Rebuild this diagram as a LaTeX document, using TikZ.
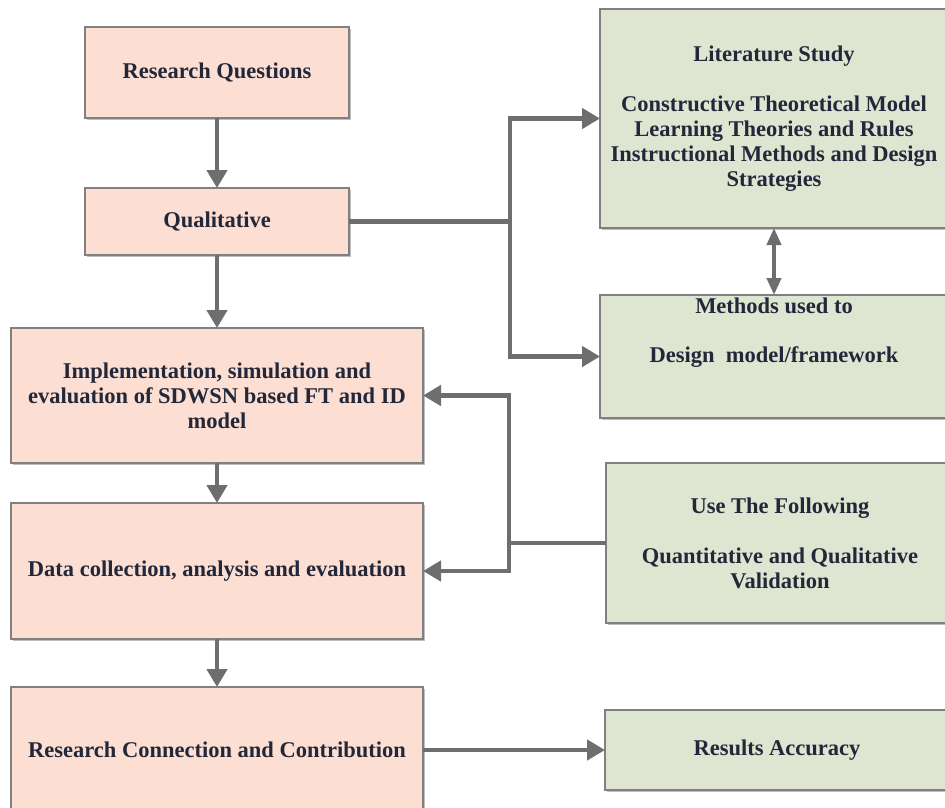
\documentclass[tikz,border=0pt]{standalone}
\usepackage{fontspec}
\setmainfont{Liberation Serif}
\usetikzlibrary{arrows.meta,shadows}
\definecolor{stagefill}{HTML}{FCDED2}
\definecolor{sourcefill}{HTML}{DEE6D2}
\definecolor{boxline}{HTML}{808080}
\definecolor{flow}{HTML}{6E6E6E}
\definecolor{ink}{HTML}{22283A}
\begin{document}
\begin{tikzpicture}[x=1pt,y=-1pt,
  boxtext/.style={inner sep=0pt, outer sep=0pt, align=center, text=ink,
    font=\rmfamily\bfseries\fontsize{22.5}{25}\selectfont},
  box/.style={boxtext, draw=boxline, line width=1.5pt,
    drop shadow={shadow xshift=2pt, shadow yshift=-2pt, opacity=0.25, fill=black}},
  stage/.style={box, fill=stagefill},
  source/.style={box, fill=sourcefill},
  flowline/.style={draw=flow, line width=4.5pt},
  flowarrow/.style={flowline, -{Triangle[length=18pt,width=20pt]}},
  twoway/.style={draw=flow, line width=4pt,
    {Triangle[length=17pt,width=14pt]}-{Triangle[length=17pt,width=14pt]}},
]
\useasboundingbox (0,0) rectangle (945,807);
\clip (0,0) rectangle (945,807);

% main research stages (left column)
\node[stage, minimum width=264pt, minimum height=91pt] (rq) at (217,72.5) {Research Questions};
\node[stage, minimum width=264pt, minimum height=67pt] (qual) at (217,221.5) {Qualitative};
\node[stage, minimum width=412pt, minimum height=135pt] (impl) at (217,395.5)
  {Implementation, simulation and\\evaluation of SDWSN based FT and ID\\model};
\node[stage, minimum width=412pt, minimum height=136pt] (data) at (217,571)
  {Data collection, analysis and evaluation};
\node[stage, minimum width=412pt, minimum height=126pt] (conn) at (217,750)
  {Research Connection and Contribution};

% supporting sources (right column)
\node[source, minimum width=348pt, minimum height=219pt] (lit) at (774,118.5)
  {Literature Study\\[25pt]Constructive Theoretical Model\\Learning Theories and Rules\\Instructional Methods and Design\\Strategies};
\node[source, minimum width=348pt, minimum height=123pt] (methods) at (774,356.5) {};
\node[boxtext] (methodsTitle) at (774,306) {Methods used to};
\node[boxtext] (methodsBody) at (774,357) {Design\ \ model/framework};
\node[source, minimum width=348pt, minimum height=160pt] (use) at (780,543)
  {Use The Following\\[25pt]Quantitative and Qualitative\\Validation};
\node[source, minimum width=344pt, minimum height=80pt] (results) at (777,750)
  {Results Accuracy};

% flow down the main column
\draw[flowarrow] (rq) -- (qual);
\draw[flowarrow] (qual) -- (impl);
\draw[flowarrow] (impl) -- (data);
\draw[flowarrow] (data) -- (conn);

% qualitative work feeds the literature and method boxes
\coordinate (split) at (510,221.5);
\draw[flowline] (qual.east) -- (split);
\draw[flowarrow] (split) |- (lit.west);
\draw[flowarrow] (split) |- (methods.west);
\draw[twoway] (lit) -- (methods);

% validation feeds implementation and data analysis
\coordinate (merge) at (509,543);
\draw[flowline] (use.west) -- (merge);
\draw[flowarrow] (merge) |- (impl.east);
\draw[flowarrow] (merge) |- (data.east);

% contribution leads to results
\draw[flowarrow] (conn) -- (results);
\end{tikzpicture}
\end{document}
